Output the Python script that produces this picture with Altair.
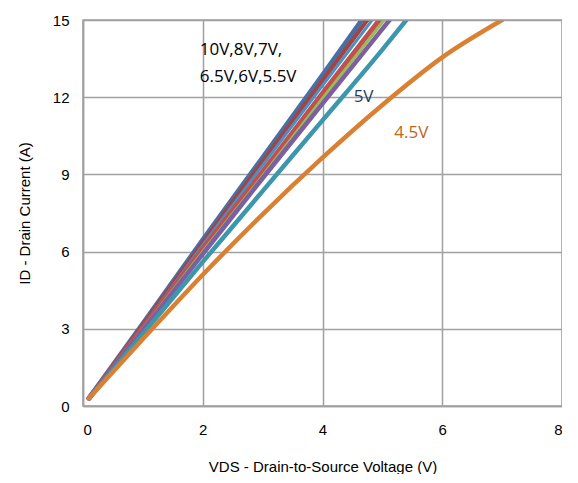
import altair as alt
import pandas as pd

series_names = ["10V", "8V", "7V", "6.5V", "6V", "5.5V", "5V", "4.5V"]
series_colors = ["#4A6FA5", "#A5433F", "#4A90C8", "#C0504D", "#9BBB59", "#7B5FA0", "#3C96AC", "#D98032"]

x_10v = [0.1, 1.0, 2.0, 3.0, 4.0, 4.66]
y_10v = [0.3, 3.2, 6.45, 9.65, 12.85, 15.0]
x_8v = [0.1, 1.0, 2.0, 3.0, 4.0, 4.75]
y_8v = [0.3, 3.15, 6.35, 9.5, 12.65, 15.0]
x_7v = [0.1, 1.0, 2.0, 3.0, 4.0, 4.83]
y_7v = [0.3, 3.1, 6.25, 9.35, 12.45, 15.0]
x_65v = [0.1, 1.0, 2.0, 3.0, 4.0, 4.95]
y_65v = [0.3, 3.05, 6.1, 9.1, 12.15, 15.0]
x_6v = [0.1, 1.0, 2.0, 3.0, 4.0, 5.03]
y_6v = [0.3, 3.0, 6.0, 8.95, 11.95, 15.0]
x_55v = [0.1, 1.0, 2.0, 3.0, 4.0, 5.12]
y_55v = [0.3, 2.95, 5.9, 8.85, 11.75, 15.0]
x_5v = [0.1, 1.0, 2.0, 3.0, 4.0, 5.0, 5.40]
y_5v = [0.3, 2.8, 5.6, 8.35, 11.1, 13.85, 15.0]
x_45v = [0.1, 1.0, 2.0, 3.0, 4.0, 5.0, 6.0, 7.0]
y_45v = [0.3, 2.6, 5.1, 7.45, 9.65, 11.7, 13.55, 15.0]

all_x = [x_10v, x_8v, x_7v, x_65v, x_6v, x_55v, x_5v, x_45v]
all_y = [y_10v, y_8v, y_7v, y_65v, y_6v, y_55v, y_5v, y_45v]
widths = [5, 4, 3, 5, 3, 4.5, 4.5, 4.5]

label_text = ["10V,8V,7V,", "6.5V,6V,5.5V", "5V", "4.5V"]
label_x = [1.95, 1.95, 4.52, 5.2]
label_y = [13.85, 12.8, 12.0, 10.6]
label_colors = ["#000000", "#000000", "#1F3B66", "#C0651A"]

rows = []
for i, name in enumerate(series_names):
    for j, (xv, yv) in enumerate(zip(all_x[i], all_y[i])):
        rows.append({"series": name, "order": i, "idx": j, "x": xv, "y": yv})
df = pd.DataFrame(rows)

xscale = alt.Scale(domain=[0, 8], nice=False)
yscale = alt.Scale(domain=[0, 15], nice=False)

W, H = 479, 386

layers = []
for i, name in enumerate(series_names):
    sub = df[df.series == name]
    layers.append(
        alt.Chart(sub).mark_line(color=series_colors[i], strokeWidth=widths[i], strokeCap="round",
                                 strokeJoin="round", clip=True, interpolate="monotone")
        .encode(
            x=alt.X("x:Q", scale=xscale,
                    axis=alt.Axis(title="VDS - Drain-to-Source Voltage (V)", values=[0, 2, 4, 6, 8], format="d",
                                  grid=True, gridColor="#A0A0A0", gridWidth=1.5,
                                  domainColor="#A0A0A0", domainWidth=1.5, ticks=False,
                                  labelFont="Liberation Sans", labelFontSize=15, labelColor="#000000",
                                  labelPadding=16, titleFont="Liberation Sans", titleFontSize=15,
                                  titleFontWeight="normal", titleColor="#000000", titlePadding=22)),
            y=alt.Y("y:Q", scale=yscale,
                    axis=alt.Axis(title="ID - Drain Current (A)", values=[0, 3, 6, 9, 12, 15], format="d",
                                  grid=True, gridColor="#A0A0A0", gridWidth=1.5,
                                  domainColor="#A0A0A0", domainWidth=1.5, ticks=False,
                                  labelFont="Liberation Sans", labelFontSize=15, labelColor="#000000",
                                  labelPadding=14, titleFont="Liberation Sans", titleFontSize=15,
                                  titleFontWeight="normal", titleColor="#000000", titlePadding=20)),
            order="idx:Q",
        )
    )

lab_df = pd.DataFrame({"text": label_text, "x": label_x, "y": label_y, "color": label_colors})
labels = alt.Chart(lab_df).mark_text(align="left", baseline="middle", font="Open Sans", fontSize=17).encode(
    x=alt.X("x:Q", scale=xscale),
    y=alt.Y("y:Q", scale=yscale),
    text="text:N",
    color=alt.Color("color:N", scale=None),
)

border = alt.Chart(pd.DataFrame({"a": [0]})).mark_rect(fill=None, stroke="#A0A0A0", strokeWidth=1.5).encode(
    x=alt.value(0), x2=alt.value(W), y=alt.value(0), y2=alt.value(H))

chart = alt.layer(*layers, labels, border).properties(
    width=W, height=H,
    autosize=alt.AutoSizeParams(type="none"),
    padding={"left": 75, "top": 12, "right": 0, "bottom": 68},
).configure_view(stroke=None).configure(background="#FFFFFF")

chart.save("out.html", embed_options={"renderer": "svg", "actions": False})
